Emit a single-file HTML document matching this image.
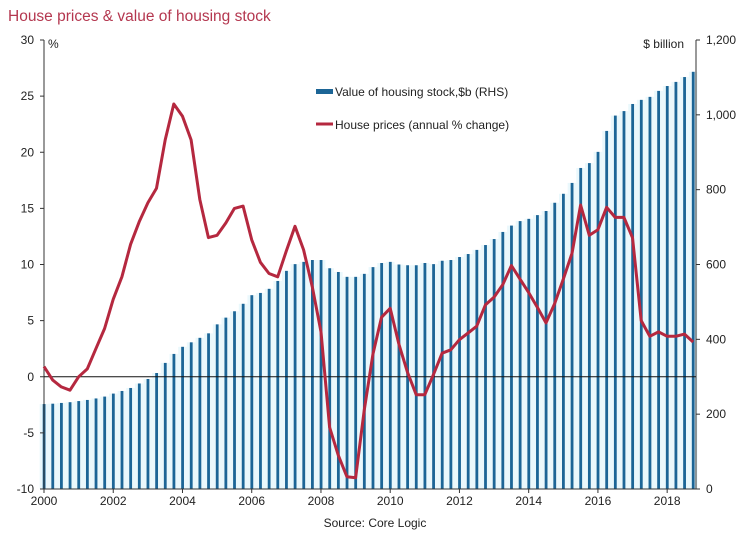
<!DOCTYPE html>
<html><head><meta charset="utf-8"><style>
body{margin:0;background:#fff;}
svg{display:block;font-family:"Liberation Sans",Arial,sans-serif;}
</style></head><body>
<svg id="chart" width="752" height="538" viewBox="0 0 752 538">
<text x="8" y="21" font-size="15.5" fill="#b4374f">House prices &amp; value of housing stock</text>
<g id="bars"></g>
<g id="axes"></g>
<g id="line"></g>
<text x="48" y="48" font-size="12" fill="#222">%</text>
<text x="684" y="48" font-size="12" fill="#222" text-anchor="end">$ billion</text>
<g>
<rect x="316" y="89" width="17" height="5" fill="#1c6596"/>
<text x="335" y="96" font-size="12" fill="#222">Value of housing stock,$b (RHS)</text>
<line x1="316" y1="124" x2="333" y2="124" stroke="#b5283f" stroke-width="3"/>
<text x="335" y="129" font-size="12" fill="#222">House prices (annual % change)</text>
</g>
<text x="375" y="527" font-size="12" fill="#222" text-anchor="middle">Source: Core Logic</text>
</svg>
<script>
const stockValues=[227,228,230,232,235,238,242,247,255,262,270,282,294,310,337,361,380,392,404,416,440,458,475,495,518,524,535,556,583,601,607,612,612,590,580,567,567,575,593,604,607,600,598,598,604,601,610,612,620,628,639,652,668,687,704,716,722,732,743,765,789,818,858,871,901,957,998,1010,1029,1040,1048,1064,1077,1088,1101,1115];
const priceChange=[0.9,-0.3,-0.9,-1.2,0.0,0.7,2.5,4.3,6.9,8.9,11.8,13.8,15.5,16.8,21.1,24.3,23.2,21.1,15.8,12.4,12.6,13.7,15.0,15.2,12.2,10.2,9.2,8.9,11.2,13.4,11.3,8.0,4.0,-4.5,-7.0,-8.9,-9.0,-3.0,2.0,5.3,6.1,2.9,0.4,-1.6,-1.6,0.2,2.1,2.4,3.3,3.9,4.5,6.4,7.1,8.2,9.9,8.7,7.5,6.2,4.8,6.5,8.7,11.0,15.3,12.6,13.1,15.1,14.2,14.2,12.4,5.0,3.6,4.0,3.6,3.6,3.8,3.1];
const leftTicks=[30,25,20,15,10,5,0,-5,-10];
const rightTicks=[1200,1000,800,600,400,200,0];
const yearTicks=[2000,2002,2004,2006,2008,2010,2012,2014,2016,2018];
const startYear=2000;

const NS="http://www.w3.org/2000/svg";
const X0=44,PXY=34.62,TOP=40,BOT=489;
const xq=i=>X0+i*PXY/4;
const xy=y=>X0+(y-startYear)*PXY;
const yL=v=>BOT-(v+10)*(BOT-TOP)/40;
const yR=v=>BOT-v*(BOT-TOP)/1200;
function mk(tag,attrs,parent){const e=document.createElementNS(NS,tag);for(const k in attrs)e.setAttribute(k,attrs[k]);parent.appendChild(e);return e;}
const bars=document.getElementById('bars'),axes=document.getElementById('axes'),line=document.getElementById('line');
stockValues.forEach((v,i)=>{
  const bg=mk('rect',{x:xq(i)-4.3,y:yR(v),width:8.66,height:BOT-yR(v),fill:'#eaf8fc'},bars);
  
  
  const r=mk('rect',{x:xq(i)-1.3,y:yR(v),width:2.8,height:BOT-yR(v),fill:'#1c6596'},bars);
  
  
});
mk('line',{x1:X0,y1:TOP,x2:X0,y2:BOT,stroke:'#333','stroke-width':1},axes);
mk('line',{x1:696,y1:TOP,x2:696,y2:BOT,stroke:'#333','stroke-width':1},axes);
mk('line',{x1:X0,y1:BOT,x2:696,y2:BOT,stroke:'#333','stroke-width':1},axes);
mk('line',{x1:X0,y1:yL(0),x2:696,y2:yL(0),stroke:'#111','stroke-width':1},axes);
leftTicks.forEach(t=>{
  mk('line',{x1:X0-4,y1:yL(t),x2:X0,y2:yL(t),stroke:'#333'},axes);
  const tx=mk('text',{x:34,y:yL(t)+4,'font-size':12,'text-anchor':'end',fill:'#222'},axes);
  tx.textContent=t;
  
  
});
rightTicks.forEach(t=>{
  mk('line',{x1:696,y1:yR(t),x2:700,y2:yR(t),stroke:'#333'},axes);
  const tx=mk('text',{x:706,y:yR(t)+4,'font-size':12,fill:'#222'},axes);
  tx.textContent=t.toLocaleString('en-US');
  
  
});
yearTicks.forEach(y=>{
  mk('line',{x1:xy(y),y1:BOT,x2:xy(y),y2:BOT+4,stroke:'#333'},axes);
  const tx=mk('text',{x:xy(y),y:BOT+16,'font-size':12,'text-anchor':'middle',fill:'#222'},axes);
  tx.textContent=y;
  
  
});
const p=mk('polyline',{points:priceChange.map((v,i)=>xq(i).toFixed(1)+','+yL(v).toFixed(1)).join(' '),fill:'none',stroke:'#b5283f','stroke-width':3,'stroke-linejoin':'round'},line);


</script>
</body></html>
